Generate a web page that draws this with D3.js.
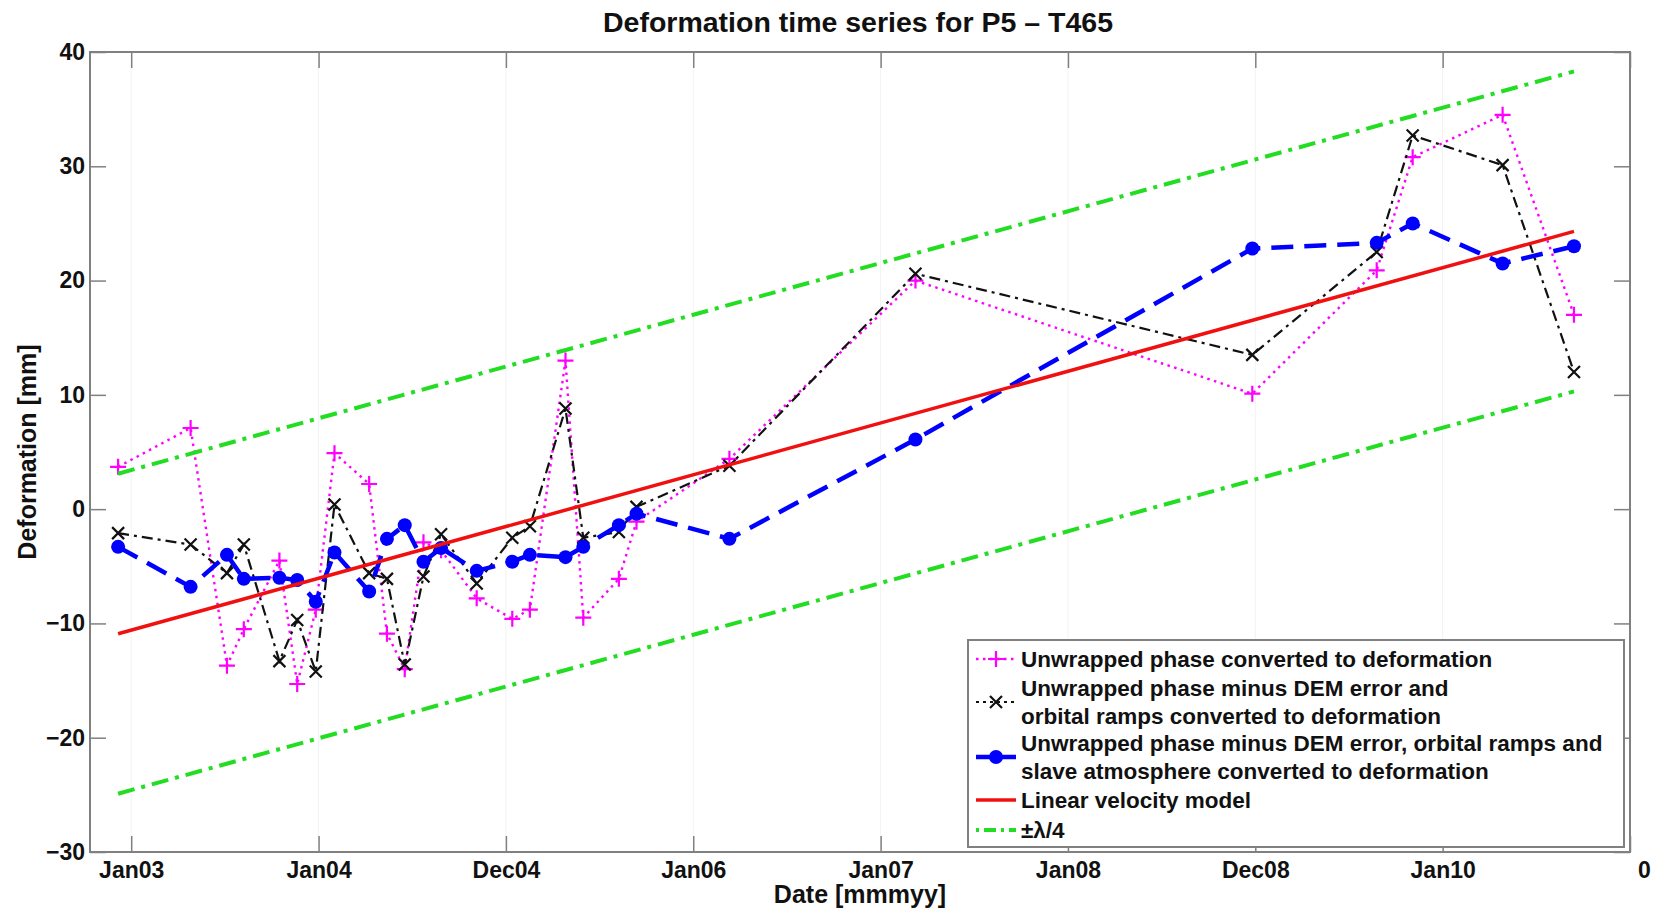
<!DOCTYPE html>
<html>
<head>
<meta charset="utf-8">
<script src="https://cdn.jsdelivr.net/npm/d3@7"></script>
<style>
  body { margin: 0; background: #fff; }
  text { font-family: "Liberation Sans", Arial, sans-serif; font-weight: bold; fill: #111; }
</style>
</head>
<body>
<svg id="chart" width="1667" height="909"></svg>
<script>
// acquisition dates, decimal years
const dates = [2002.930, 2003.317, 2003.511, 2003.601, 2003.791, 2003.886, 2003.985, 2004.085,
    2004.270, 2004.365, 2004.460, 2004.560, 2004.654, 2004.844, 2005.034, 2005.128, 2005.318,
    2005.413, 2005.603, 2005.697, 2006.193, 2007.186, 2008.984, 2009.648, 2009.840, 2010.320, 2010.701];

// deformation [mm]
const unwrapped = [3.7, 7.1, -13.7, -10.5, -4.5, -15.3, -8.8, 4.9, 2.2, -10.9, -14.0, -2.9, -3.6,
    -7.8, -9.6, -8.8, 13.0, -9.5, -6.1, -1.1, 4.4, 20.0, 10.1, 20.9, 30.8, 34.5, 17.0];
const minusDemOrbit = [-2.1, -3.1, -5.6, -3.1, -13.3, -9.7, -14.2, 0.4, -5.6, -6.1, -13.6, -5.9, -2.2,
    -6.5, -2.5, -1.5, 8.8, -2.5, -2.0, 0.2, 3.8, 20.6, 13.5, 22.5, 32.7, 30.1, 12.0];
const minusAtmo = [-3.3, -6.8, -4.0, -6.1, -6.0, -6.2, -8.1, -3.8, -7.2, -2.6, -1.4, -4.6, -3.4,
    -5.4, -4.6, -4.0, -4.2, -3.3, -1.4, -0.4, -2.6, 6.1, 22.8, 23.3, 25.0, 21.5, 23.0];

// linear model and +-lambda/4 band, end points
const modelDates = [2002.930, 2010.701];
const linearModel = [-10.9, 24.3];
const upperBound = [3.1, 38.3];
const lowerBound = [-24.9, 10.3];

const xTickValues = [2003, 2004, 2005, 2006, 2007, 2008, 2009, 2010, 2011];
const xTickLabels = ["Jan03", "Jan04", "Dec04", "Jan06", "Jan07", "Jan08", "Dec08", "Jan10", "0"];
const yTickValues = [40, 30, 20, 10, 0, -10, -20, -30];

const legendLabels = [
    ["Unwrapped phase converted to deformation"],
    ["Unwrapped phase minus DEM error and", "orbital ramps converted to deformation"],
    ["Unwrapped phase minus DEM error, orbital ramps and", "slave atmosphere converted to deformation"],
    ["Linear velocity model"],
    ["\u00b1\u03bb/4"]
];

const svg = d3.select("#chart"),
    m = { left: 90, right: 1630, top: 52, bottom: 852 },
    cs = {
        magenta: "#ff00ff", black: "#111", blue: "#0000ff", red: "#f01010", green: "#22dd22",
        axis: "#808080", grid: "#f2f2f2"
    };

const x = d3.scaleLinear().domain([2002.78, 2011]).range([m.left, m.right]);
const y = d3.scaleLinear().domain([-30, 40]).range([m.bottom, m.top]);

// faint vertical grid
svg.append("g").selectAll("line").data(xTickValues).enter().append("line")
    .attr("x1", d => x(d)).attr("x2", d => x(d))
    .attr("y1", m.top).attr("y2", m.bottom)
    .attr("stroke", cs.grid).attr("stroke-width", 1);

// axes
const tick = 16;
const styleAxis = g => {
    g.select(".domain").remove();
    g.selectAll(".tick line").attr("stroke", cs.axis).attr("stroke-width", 1.5);
    g.selectAll("text").style("font-size", "23px").attr("fill", "#111");
};
svg.append("g").attr("transform", "translate(0," + m.bottom + ")")
    .call(d3.axisBottom(x).tickValues(xTickValues).tickSizeInner(-tick).tickSizeOuter(0).tickPadding(10)
        .tickFormat((d, i) => xTickLabels[i]))
    .call(styleAxis)
    .call(g => g.selectAll("text").filter((d, i) => i === xTickLabels.length - 1).attr("dx", 14));
svg.append("g").attr("transform", "translate(0," + m.top + ")")
    .call(d3.axisTop(x).tickValues(xTickValues).tickSizeInner(-tick).tickSizeOuter(0).tickFormat(""))
    .call(styleAxis);
svg.append("g").attr("transform", "translate(" + m.left + ",0)")
    .call(d3.axisLeft(y).tickValues(yTickValues).tickSizeInner(-tick).tickSizeOuter(0).tickPadding(5))
    .call(styleAxis);
svg.append("g").attr("transform", "translate(" + m.right + ",0)")
    .call(d3.axisRight(y).tickValues(yTickValues).tickSizeInner(-tick).tickSizeOuter(0).tickFormat(""))
    .call(styleAxis);

svg.append("rect")
    .attr("x", m.left).attr("y", m.top)
    .attr("width", m.right - m.left).attr("height", m.bottom - m.top)
    .attr("fill", "none").attr("stroke", cs.axis).attr("stroke-width", 2);

// series
const line = d3.line().x(d => x(d[0])).y(d => y(d[1]));
const plot = svg.append("g");
const plusPath = "M-8,0H8M0,-8V8",
    crossPath = "M-6,-6L6,6M-6,6L6,-6";

const s1 = dates.map((d, i) => [d, unwrapped[i]]);
plot.append("path").datum(s1).attr("d", line)
    .attr("fill", "none").attr("stroke", cs.magenta).attr("stroke-width", 2.4)
    .attr("stroke-dasharray", "2.5,4.5");
plot.append("g").selectAll("path").data(s1).enter().append("path")
    .attr("d", plusPath).attr("transform", d => "translate(" + x(d[0]) + "," + y(d[1]) + ")")
    .attr("stroke", cs.magenta).attr("stroke-width", 2.2);

const s2 = dates.map((d, i) => [d, minusDemOrbit[i]]);
plot.append("path").datum(s2).attr("d", line)
    .attr("fill", "none").attr("stroke", cs.black).attr("stroke-width", 2.2)
    .attr("stroke-dasharray", "11,5,3,5");
plot.append("g").selectAll("path").data(s2).enter().append("path")
    .attr("d", crossPath).attr("transform", d => "translate(" + x(d[0]) + "," + y(d[1]) + ")")
    .attr("stroke", cs.black).attr("stroke-width", 2.2);

const s3 = dates.map((d, i) => [d, minusAtmo[i]]);
plot.append("path").datum(s3).attr("d", line)
    .attr("fill", "none").attr("stroke", cs.blue).attr("stroke-width", 4.5)
    .attr("stroke-dasharray", "22,11");
plot.append("g").selectAll("circle").data(s3).enter().append("circle")
    .attr("cx", d => x(d[0])).attr("cy", d => y(d[1])).attr("r", 7)
    .attr("fill", cs.blue);

plot.append("path").datum(modelDates.map((d, i) => [d, linearModel[i]])).attr("d", line)
    .attr("fill", "none").attr("stroke", cs.red).attr("stroke-width", 3.5);

[upperBound, lowerBound].forEach(b => {
    plot.append("path").datum(modelDates.map((d, i) => [d, b[i]])).attr("d", line)
        .attr("fill", "none").attr("stroke", cs.green).attr("stroke-width", 4)
        .attr("stroke-dasharray", "17,7,4,7");
});

// legend
const lg = svg.append("g").attr("transform", "translate(968,640)");
lg.append("rect").attr("width", 656).attr("height", 207)
    .attr("fill", "#fff").attr("stroke", cs.axis).attr("stroke-width", 2);
const rowY = [19, 62, 117, 160, 190],
    lineH = 28;
const legendStyles = [
    { stroke: cs.magenta, w: 2.4, dash: "2.5,4.5", mark: "plus" },
    { stroke: cs.black, w: 2.2, dash: "3,4", mark: "cross" },
    { stroke: cs.blue, w: 4.5, dash: null, mark: "dot" },
    { stroke: cs.red, w: 3.5, dash: null, mark: null },
    { stroke: cs.green, w: 4, dash: "3,5,12,5", mark: null }
];
legendLabels.forEach((lines, i) => {
    const st = legendStyles[i],
        cy = rowY[i],
        row = lg.append("g");
    row.append("line").attr("x1", 8).attr("x2", 48).attr("y1", cy).attr("y2", cy)
        .attr("stroke", st.stroke).attr("stroke-width", st.w)
        .attr("stroke-dasharray", st.dash);
    if (st.mark === "plus") row.append("path").attr("d", plusPath)
        .attr("transform", "translate(28," + cy + ")").attr("stroke", st.stroke).attr("stroke-width", 2.2);
    if (st.mark === "cross") row.append("path").attr("d", crossPath)
        .attr("transform", "translate(28," + cy + ")").attr("stroke", st.stroke).attr("stroke-width", 2.2);
    if (st.mark === "dot") row.append("circle").attr("cx", 28).attr("cy", cy).attr("r", 7).attr("fill", st.stroke);
    lines.forEach((t, j) => {
        row.append("text").attr("x", 53)
            .attr("y", cy + (j - (lines.length - 1) / 2) * lineH)
            .attr("dy", "0.35em").style("font-size", "22.5px").text(t);
    });
});

// titles
svg.append("text").attr("x", 858).attr("y", 32)
    .attr("text-anchor", "middle").style("font-size", "28.5px")
    .text("Deformation time series for P5 \u2013 T465");
svg.append("text").attr("x", (m.left + m.right) / 2).attr("y", 903)
    .attr("text-anchor", "middle").style("font-size", "25px").text("Date [mmmyy]");
svg.append("text").attr("transform", "translate(36," + (m.top + m.bottom) / 2 + ") rotate(-90)")
    .attr("text-anchor", "middle").style("font-size", "25px").text("Deformation [mm]");
</script>
</body>
</html>
